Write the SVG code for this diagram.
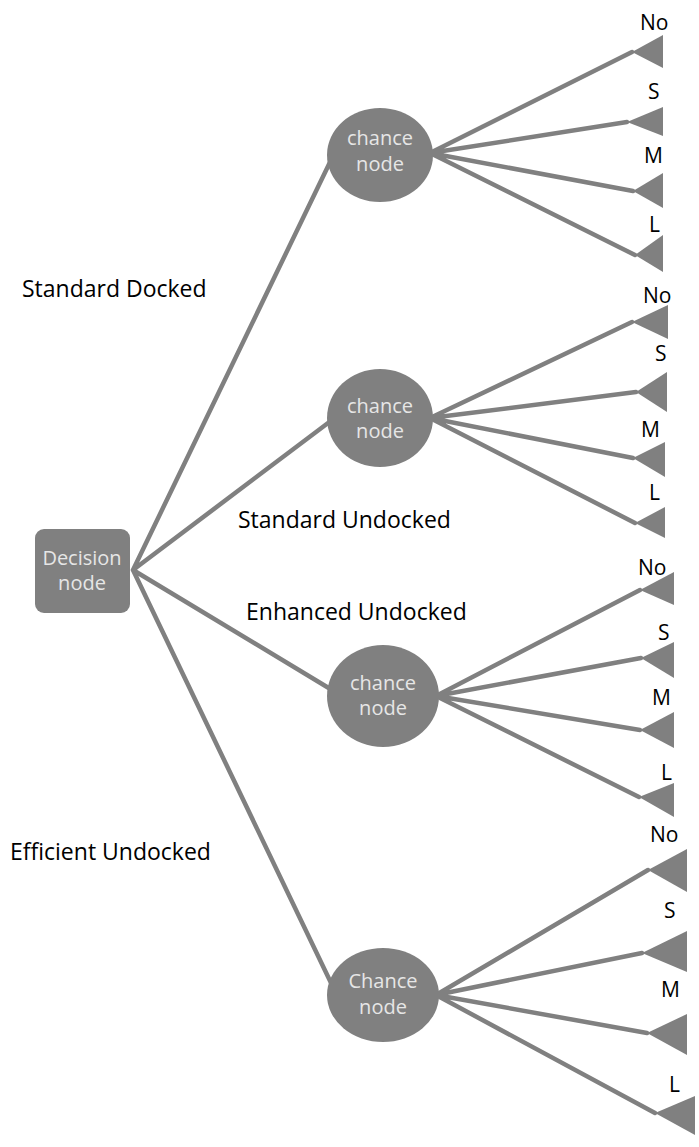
<svg xmlns="http://www.w3.org/2000/svg" width="699" height="1147" viewBox="0 0 699 1147">
<style>
.ln{stroke:#808080;stroke-width:4.5;fill:none;stroke-linecap:round}
.nd{fill:#808080}
.nt{font-family:"Open Sans",sans-serif;font-size:20px;fill:#e6e6e6;text-anchor:middle}
.lb{font-family:"Open Sans",sans-serif;font-size:21px;fill:#000}
.bl{font-family:"Open Sans",sans-serif;font-size:23px;fill:#000}
.tri{fill:#808080}
</style>
<rect width="699" height="1147" fill="#fff"/>
<g id="connectors">
<path class="ln" d="M133,570 L332,158 M133,570 L332,420 M133,570 L332,690 M133,570 L332,985"/>
<path class="ln" d="M430,153 L632,52 M430,153 L627,122 M430,153 L633,191 M430,153 L635,255"/>
<path class="ln" d="M430,418 L632,322 M430,418 L636,392 M430,418 L633,458 M430,418 L635,523"/>
<path class="ln" d="M436,696 L640,590 M436,696 L641,658 M436,696 L640,730 M436,696 L639,797"/>
<path class="ln" d="M436,995 L648,870 M436,995 L642,953 M436,995 L647,1033 M436,995 L655,1113"/>
</g>
<g id="decision"><rect class="nd" x="35" y="529" width="95" height="84" rx="9"/><text class="nt" x="82" y="565">Decision</text><text class="nt" x="82" y="590">node</text></g>
<g id="chance1"><ellipse class="nd" cx="380" cy="155" rx="53" ry="47"/><text class="nt" x="380" y="145">chance</text><text class="nt" x="380" y="171">node</text></g>
<g id="chance2"><ellipse class="nd" cx="380" cy="418" rx="53" ry="49"/><text class="nt" x="380" y="413">chance</text><text class="nt" x="380" y="438">node</text></g>
<g id="chance3"><ellipse class="nd" cx="383" cy="696" rx="56" ry="51"/><text class="nt" x="383" y="690">chance</text><text class="nt" x="383" y="715">node</text></g>
<g id="chance4"><ellipse class="nd" cx="383" cy="995" rx="56" ry="47"/><text class="nt" x="383" y="988">Chance</text><text class="nt" x="383" y="1014">node</text></g>
<g id="leaves1">
<polygon class="tri" points="632,52 663,35 663,68"/>
<polygon class="tri" points="627,122 663,107 663,136"/>
<polygon class="tri" points="633,191 663,173 663,208"/>
<polygon class="tri" points="635,255 663,235 663,272"/>
<text class="lb" x="640" y="30">No</text><text class="lb" x="648" y="99">S</text><text class="lb" x="644" y="163">M</text><text class="lb" x="649" y="232">L</text>
</g>
<g id="leaves2">
<polygon class="tri" points="632,322 668,305 668,339"/>
<polygon class="tri" points="636,392 667,372 667,412"/>
<polygon class="tri" points="633,458 665,442 665,477"/>
<polygon class="tri" points="635,523 665,507 665,538"/>
<text class="lb" x="643" y="303">No</text><text class="lb" x="655" y="361">S</text><text class="lb" x="641" y="437">M</text><text class="lb" x="649" y="500">L</text>
</g>
<g id="leaves3">
<polygon class="tri" points="640,590 674,572 674,605"/>
<polygon class="tri" points="641,658 674,642 674,678"/>
<polygon class="tri" points="640,730 674,712 674,748"/>
<polygon class="tri" points="639,797 674,783 674,817"/>
<text class="lb" x="638" y="575">No</text><text class="lb" x="658" y="640">S</text><text class="lb" x="652" y="705">M</text><text class="lb" x="661" y="780">L</text>
</g>
<g id="leaves4">
<polygon class="tri" points="648,870 687,849 687,892"/>
<polygon class="tri" points="642,953 687,931 687,972"/>
<polygon class="tri" points="647,1033 687,1014 687,1055"/>
<polygon class="tri" points="655,1113 695,1096 695,1135"/>
<text class="lb" x="650" y="842">No</text><text class="lb" x="664" y="918">S</text><text class="lb" x="661" y="997">M</text><text class="lb" x="669" y="1092">L</text>
</g>
<g id="labels">
<text class="bl" x="22" y="297">Standard Docked</text>
<text class="bl" x="238" y="528">Standard Undocked</text>
<text class="bl" x="246" y="620">Enhanced Undocked</text>
<text class="bl" x="10" y="860">Efficient Undocked</text>
</g>
</svg>
